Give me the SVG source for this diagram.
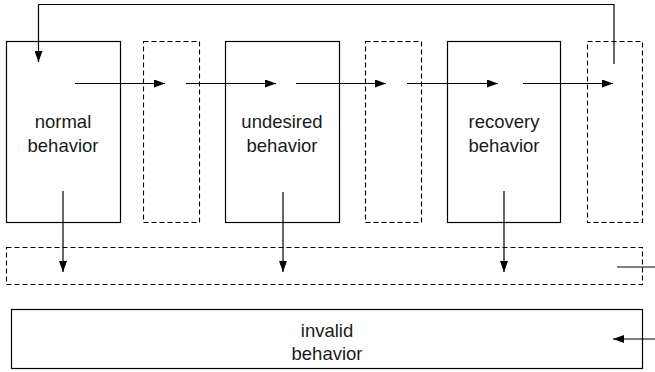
<svg xmlns="http://www.w3.org/2000/svg" width="655" height="372" viewBox="0 0 655 372">
<defs>
<marker id="ah" markerWidth="11" markerHeight="8" refX="11" refY="4" orient="auto" markerUnits="userSpaceOnUse">
<path d="M0,0 L11,4 L0,8 Z" fill="#000"/>
</marker>
<style>
.box{fill:#fff;stroke:#000;stroke-width:1.2}
.dash{fill:none;stroke:#000;stroke-width:1.1;stroke-dasharray:5 3}
.lbl{font-family:"Liberation Sans",Arial,sans-serif;font-size:18.5px;fill:#1a1a1a;text-anchor:middle}
.c{fill:none;stroke:#000;stroke-width:1.2}
</style>
</defs>
<rect width="655" height="372" fill="#fff"/>
<g id="normal">
<rect class="box" x="6.5" y="41.5" width="114" height="181"/>
<text class="lbl" x="63" y="128">normal</text>
<text class="lbl" x="63" y="152">behavior</text>
</g>
<g id="gap1"><rect class="dash" x="143.5" y="41.5" width="56" height="181"/></g>
<g id="undesired">
<rect class="box" x="225.5" y="41.5" width="114" height="181"/>
<text class="lbl" x="282" y="128">undesired</text>
<text class="lbl" x="282" y="152">behavior</text>
</g>
<g id="gap2"><rect class="dash" x="365.5" y="41.5" width="56" height="181"/></g>
<g id="recovery">
<rect class="box" x="447.5" y="41.5" width="113" height="181"/>
<text class="lbl" x="504" y="128">recovery</text>
<text class="lbl" x="504" y="152">behavior</text>
</g>
<g id="gap3"><rect class="dash" x="587.5" y="41.5" width="55" height="181"/></g>
<g id="bar"><rect class="dash" x="6.5" y="247.5" width="636" height="37"/></g>
<g id="invalid">
<rect class="box" x="11.5" y="309.5" width="631" height="59"/>
<text class="lbl" x="327" y="337">invalid</text>
<text class="lbl" x="327" y="360">behavior</text>
</g>
<g id="connectors">
<polyline class="c" points="614,64 614,4.5 38.5,4.5 38.5,62" marker-end="url(#ah)"/>
<line class="c" x1="75" y1="83.5" x2="165" y2="83.5" marker-end="url(#ah)"/>
<line class="c" x1="186" y1="83.5" x2="276" y2="83.5" marker-end="url(#ah)"/>
<line class="c" x1="296" y1="83.5" x2="386" y2="83.5" marker-end="url(#ah)"/>
<line class="c" x1="407" y1="83.5" x2="498" y2="83.5" marker-end="url(#ah)"/>
<line class="c" x1="523" y1="83.5" x2="613" y2="83.5" marker-end="url(#ah)"/>
<line class="c" x1="63" y1="191" x2="63" y2="272" marker-end="url(#ah)"/>
<line class="c" x1="283" y1="192" x2="283" y2="272" marker-end="url(#ah)"/>
<line class="c" x1="504" y1="191" x2="504" y2="272" marker-end="url(#ah)"/>
<line class="c" x1="617" y1="267" x2="655" y2="267"/>
<line class="c" x1="655" y1="339" x2="613" y2="339" marker-end="url(#ah)"/>
</g>
</svg>
